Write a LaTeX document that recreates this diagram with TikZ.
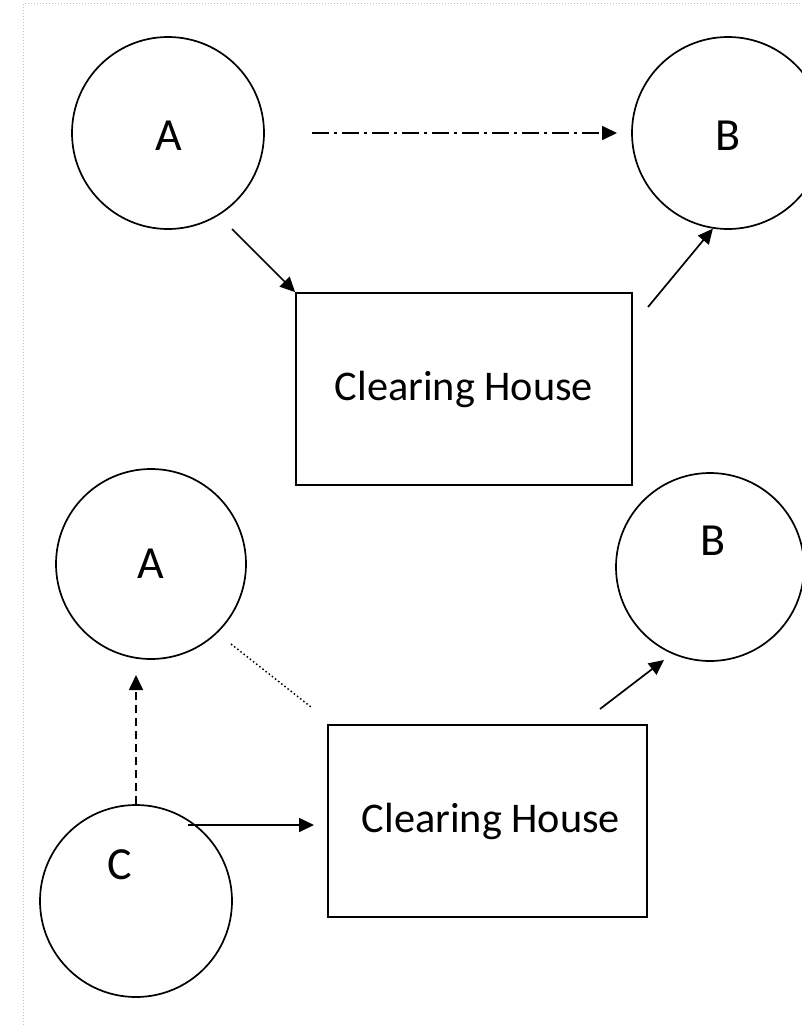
\documentclass[tikz,border=0pt]{standalone}
\usepackage{fontspec}
\setmainfont{Carlito}
\usetikzlibrary{arrows.meta}
\begin{document}
\begin{tikzpicture}[x=1pt,y=-1pt,
  party/.style={circle,draw,line width=1.7pt,minimum size=192pt,inner sep=0pt,font=\fontsize{46}{52}\selectfont},
  lettertext/.style={font=\fontsize{46}{52}\selectfont,inner sep=0pt},
  house/.style={rectangle,draw,line width=1.7pt,inner sep=0pt,font=\fontsize{42.3}{48}\selectfont},
  arr/.style={line width=1.7pt,-{Triangle[length=15pt,width=14pt]}},
  frame/.style={draw=black!25,line width=1pt,dotted}]
\useasboundingbox (0,0) rectangle (802,1025);
\draw[frame] (23,1025) -- (23,4) -- (802,4);
% top diagram
\node[party] (A1) at (168,133) {};
\node[lettertext] (A1t) at (169,136) {A};
\node[party] (B1) at (728,133) {};
\node[lettertext] (B1t) at (728,136) {B};
\node[house,minimum width=336pt,minimum height=192pt] (H1) at (464,389) {Clearing House};
\coordinate (d1s) at (312,133);
\coordinate (d1e) at (617,133);
\coordinate (a1s) at (232,229);
\coordinate (h1s) at (648,307);
\draw[arr,dash pattern=on 17pt off 5pt on 3pt off 5pt] (d1s) -- (d1e);
\draw[arr] (a1s) -- (H1.north west);
\draw[arr] (h1s) -- (B1.261);
% bottom diagram
\node[party,minimum size=190pt] (A2) at (151,564) {};
\node[lettertext] (A2t) at (151,564) {A};
\node[party,minimum size=188pt] (B2) at (710,567) {};
\node[lettertext] (B2t) at (713,541) {B};
\node[house,minimum width=319pt,minimum height=192pt] (H2) at (487.5,821) {\hspace*{7pt}Clearing House};
\node[party] (C) at (136,901) {};
\node[lettertext] (Ct) at (120,865) {C};
\coordinate (dots) at (231,644);
\coordinate (dote) at (311,707);
\coordinate (h2s) at (600,709);
\coordinate (b2e) at (664,660);
\coordinate (ca) at (136,675);
\coordinate (cs) at (188,825);
\coordinate (ce) at (314,825);
\draw[line width=1.5pt,dash pattern=on 1.5pt off 2.5pt] (dots) -- (dote);
\draw[arr] (h2s) -- (b2e);
\draw[arr,dash pattern=on 8pt off 5pt] (C.north) -- (ca);
\draw[arr] (cs) -- (ce);
\end{tikzpicture}
\end{document}
